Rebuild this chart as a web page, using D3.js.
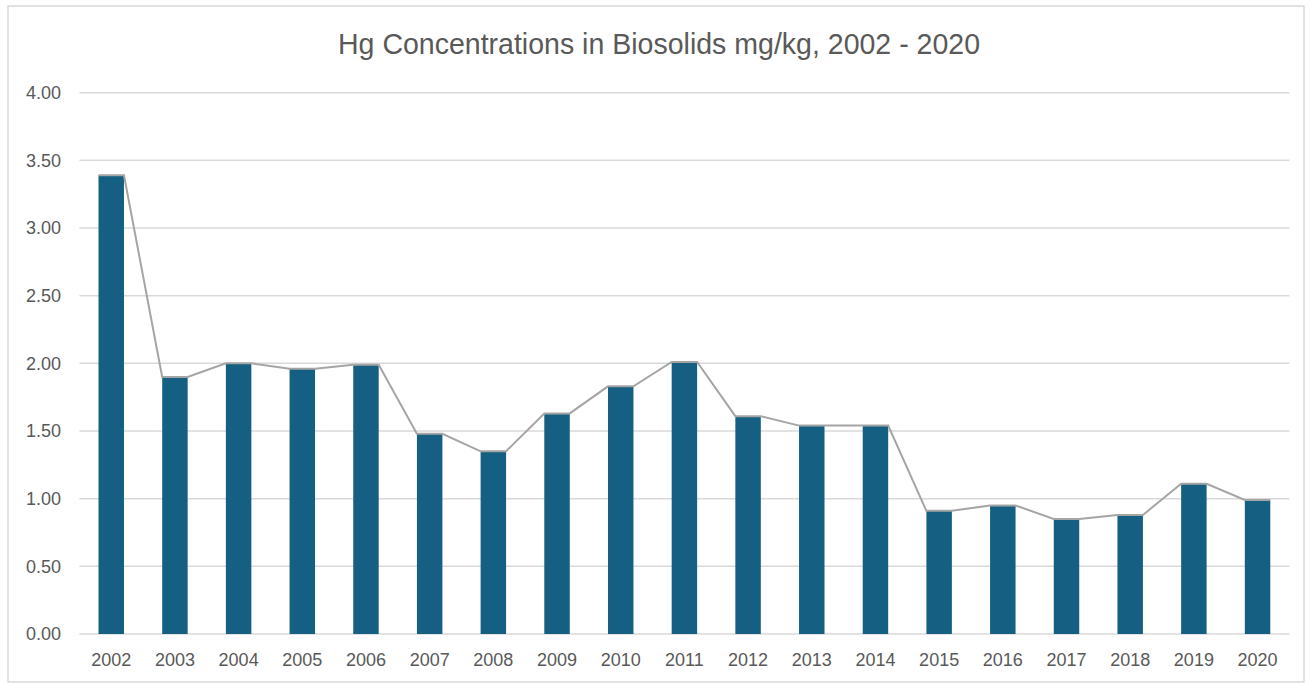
<!DOCTYPE html>
<html>
<head>
<meta charset="utf-8">
<script src="https://cdn.jsdelivr.net/npm/d3@7"></script>
<style>
  body { margin: 0; background: #fff; }
  svg { display: block; }
</style>
</head>
<body>
<svg width="1310" height="683"></svg>
<script>
var years = ["2002","2003","2004","2005","2006","2007","2008","2009","2010","2011",
             "2012","2013","2014","2015","2016","2017","2018","2019","2020"];
var hgValues = [3.39, 1.90, 2.00, 1.96, 1.99, 1.48, 1.35, 1.63, 1.83, 2.01,
                1.61, 1.54, 1.54, 0.91, 0.95, 0.85, 0.88, 1.11, 0.99];
var yTicks = [0, 0.5, 1, 1.5, 2, 2.5, 3, 3.5, 4];
var titleText = "Hg Concentrations in Biosolids mg/kg, 2002 - 2020";

var svg = d3.select('svg');

// chart frame
svg.append('rect')
  .attr('x', 8).attr('y', 6)
  .attr('width', 1296).attr('height', 676)
  .attr('fill', '#fff')
  .attr('stroke', '#d9d9d9')
  .attr('stroke-width', 1.5);

var scaleX = d3.scaleBand().domain(years).range([79.4, 1289.4]).paddingInner(0.6).paddingOuter(0.3);
var scaleY = d3.scaleLinear().domain([0, 4]).range([634, 92.7]);

// gridlines
svg.append('g')
  .selectAll('line')
  .data(yTicks)
  .enter()
  .append('line')
  .attr('x1', 79.4)
  .attr('x2', 1289.4)
  .attr('y1', function(d){ return scaleY(d); })
  .attr('y2', function(d){ return scaleY(d); })
  .attr('stroke', '#d9d9d9')
  .attr('stroke-width', 1.5);

// y axis labels
var yAxis = svg.append('g')
  .attr('transform', 'translate(61,0)')
  .call(d3.axisLeft(scaleY).tickValues(yTicks).tickSize(0).tickPadding(0).tickFormat(d3.format('.2f')));
yAxis.select('.domain').remove();
yAxis.selectAll('text')
  .attr('fill', '#595959')
  .style('font-family', '"Liberation Sans", Arial, sans-serif')
  .style('font-size', '18px');

// x axis labels
var xAxis = svg.append('g')
  .attr('transform', 'translate(0,653)')
  .call(d3.axisBottom(scaleX).tickSize(0).tickPadding(0));
xAxis.select('.domain').remove();
xAxis.selectAll('text')
  .attr('fill', '#595959')
  .style('font-family', '"Liberation Sans", Arial, sans-serif')
  .style('font-size', '18px');

// bars
svg.append('g')
  .selectAll('rect')
  .data(hgValues)
  .enter()
  .append('rect')
  .attr('x', function(d, i){ return scaleX(years[i]); })
  .attr('y', function(d){ return scaleY(d); })
  .attr('width', scaleX.bandwidth())
  .attr('height', function(d){ return scaleY(0) - scaleY(d); })
  .attr('fill', '#156082');

// series lines: across each bar top, then to the next bar
var pts = [];
hgValues.forEach(function(d, i){
  pts.push([scaleX(years[i]), scaleY(d)]);
  pts.push([scaleX(years[i]) + scaleX.bandwidth(), scaleY(d)]);
});
svg.append('path')
  .attr('d', d3.line()(pts))
  .attr('fill', 'none')
  .attr('stroke', '#a5a5a5')
  .attr('stroke-width', 2);

// title
svg.append('text')
  .attr('x', 338)
  .attr('y', 54)
  .attr('textLength', 642)
  .attr('lengthAdjust', 'spacingAndGlyphs')
  .attr('fill', '#595959')
  .style('font-family', '"Liberation Sans", Arial, sans-serif')
  .style('font-size', '29px')
  .text(titleText);
</script>
</body>
</html>
